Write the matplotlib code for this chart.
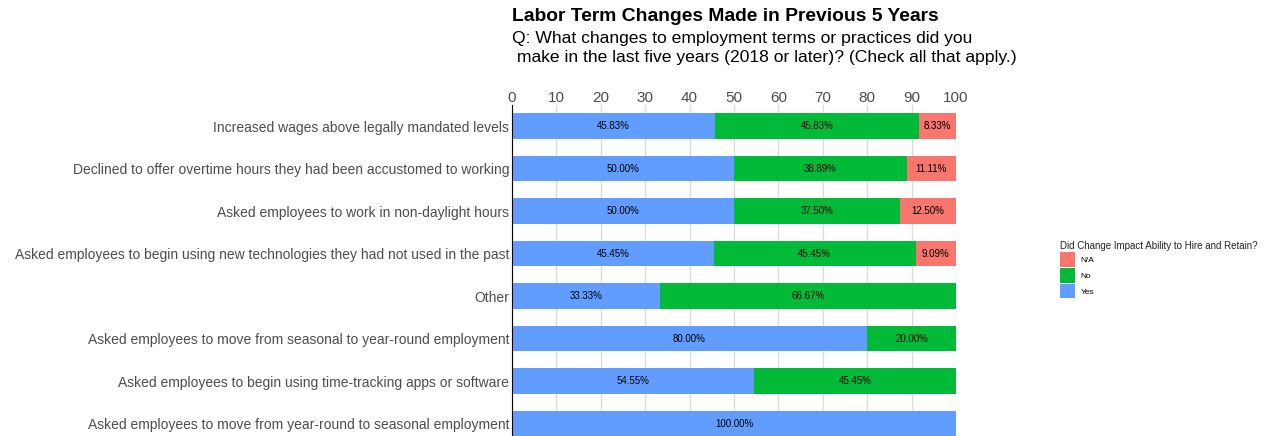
import matplotlib.pyplot as plt
import numpy as np

plt.rcParams['font.family'] = ['Liberation Sans', 'DejaVu Sans']

changes = [
    "Increased wages above legally mandated levels",
    "Declined to offer overtime hours they had been accustomed to working",
    "Asked employees to work in non-daylight hours",
    "Asked employees to begin using new technologies they had not used in the past",
    "Other",
    "Asked employees to move from seasonal to year-round employment",
    "Asked employees to begin using time-tracking apps or software",
    "Asked employees to move from year-round to seasonal employment",
]
yes = [45.83, 50.00, 50.00, 45.45, 33.33, 80.00, 54.55, 100.00]
no = [45.83, 38.89, 37.50, 45.45, 66.67, 20.00, 45.45, 0.00]
na = [8.33, 11.11, 12.50, 9.09, 0.00, 0.00, 0.00, 0.00]

series = [("Yes", yes, "#619CFF"), ("No", no, "#00BA38"), ("N/A", na, "#F8766D")]

fig = plt.figure(figsize=(12.65, 4.36), dpi=100)
ax = fig.add_axes([0.4047, -0.0206, 0.351, 0.7798])

y = np.arange(len(changes))
left = np.zeros(len(changes))
handles = {}
for name, vals, col in series:
    vals = np.array(vals)
    bars = ax.barh(y, vals, left=left, height=0.6, color=col, zorder=2)
    handles[name] = bars
    for yi, l, v in zip(y, left, vals):
        if v > 0:
            ax.text(l + v / 2, yi, f"{v:.2f}%", ha='center', va='center',
                    fontsize=7, color='black', zorder=3)
    left += vals

ax.set_xlim(0, 100)
ax.set_ylim(len(changes) - 0.5, -0.5)
ax.set_xticks(np.arange(0, 101, 10))
ax.xaxis.tick_top()
ax.tick_params(axis='x', length=0, labelcolor='#4d4d4d', labelsize=11, pad=0)
ax.set_yticks(y)
ax.set_yticklabels(changes)
ax.tick_params(axis='y', length=0, labelcolor='#4d4d4d', labelsize=10, pad=2)
ax.grid(axis='x', color='#d9dde2', linewidth=1, zorder=0)
for s in ['top', 'right', 'bottom']:
    ax.spines[s].set_visible(False)
ax.spines['left'].set_color('black')
ax.spines['left'].set_zorder(4)

fig.text(0.4047, 0.962, "Labor Term Changes Made in Previous 5 Years",
         fontsize=13.9, fontweight='bold', ha='left', va='center')
fig.text(0.4047, 0.912, "Q: What changes to employment terms or practices did you",
         fontsize=12.6, ha='left', va='center')
fig.text(0.4047, 0.869, " make in the last five years (2018 or later)? (Check all that apply.)",
         fontsize=12.6, ha='left', va='center')

leg = fig.legend([handles["N/A"], handles["No"], handles["Yes"]], ["N/A", "No", "Yes"],
                 title="Did Change Impact Ability to Hire and Retain?",
                 loc='upper left', bbox_to_anchor=(0.832, 0.464),
                 frameon=False, fontsize=6, title_fontsize=7,
                 handlelength=1.75, handleheight=2.3, labelspacing=0.15,
                 handletextpad=0.7, alignment='left')
leg.get_title().set_color('#222222')

fig.savefig("out.png", dpi=100)
